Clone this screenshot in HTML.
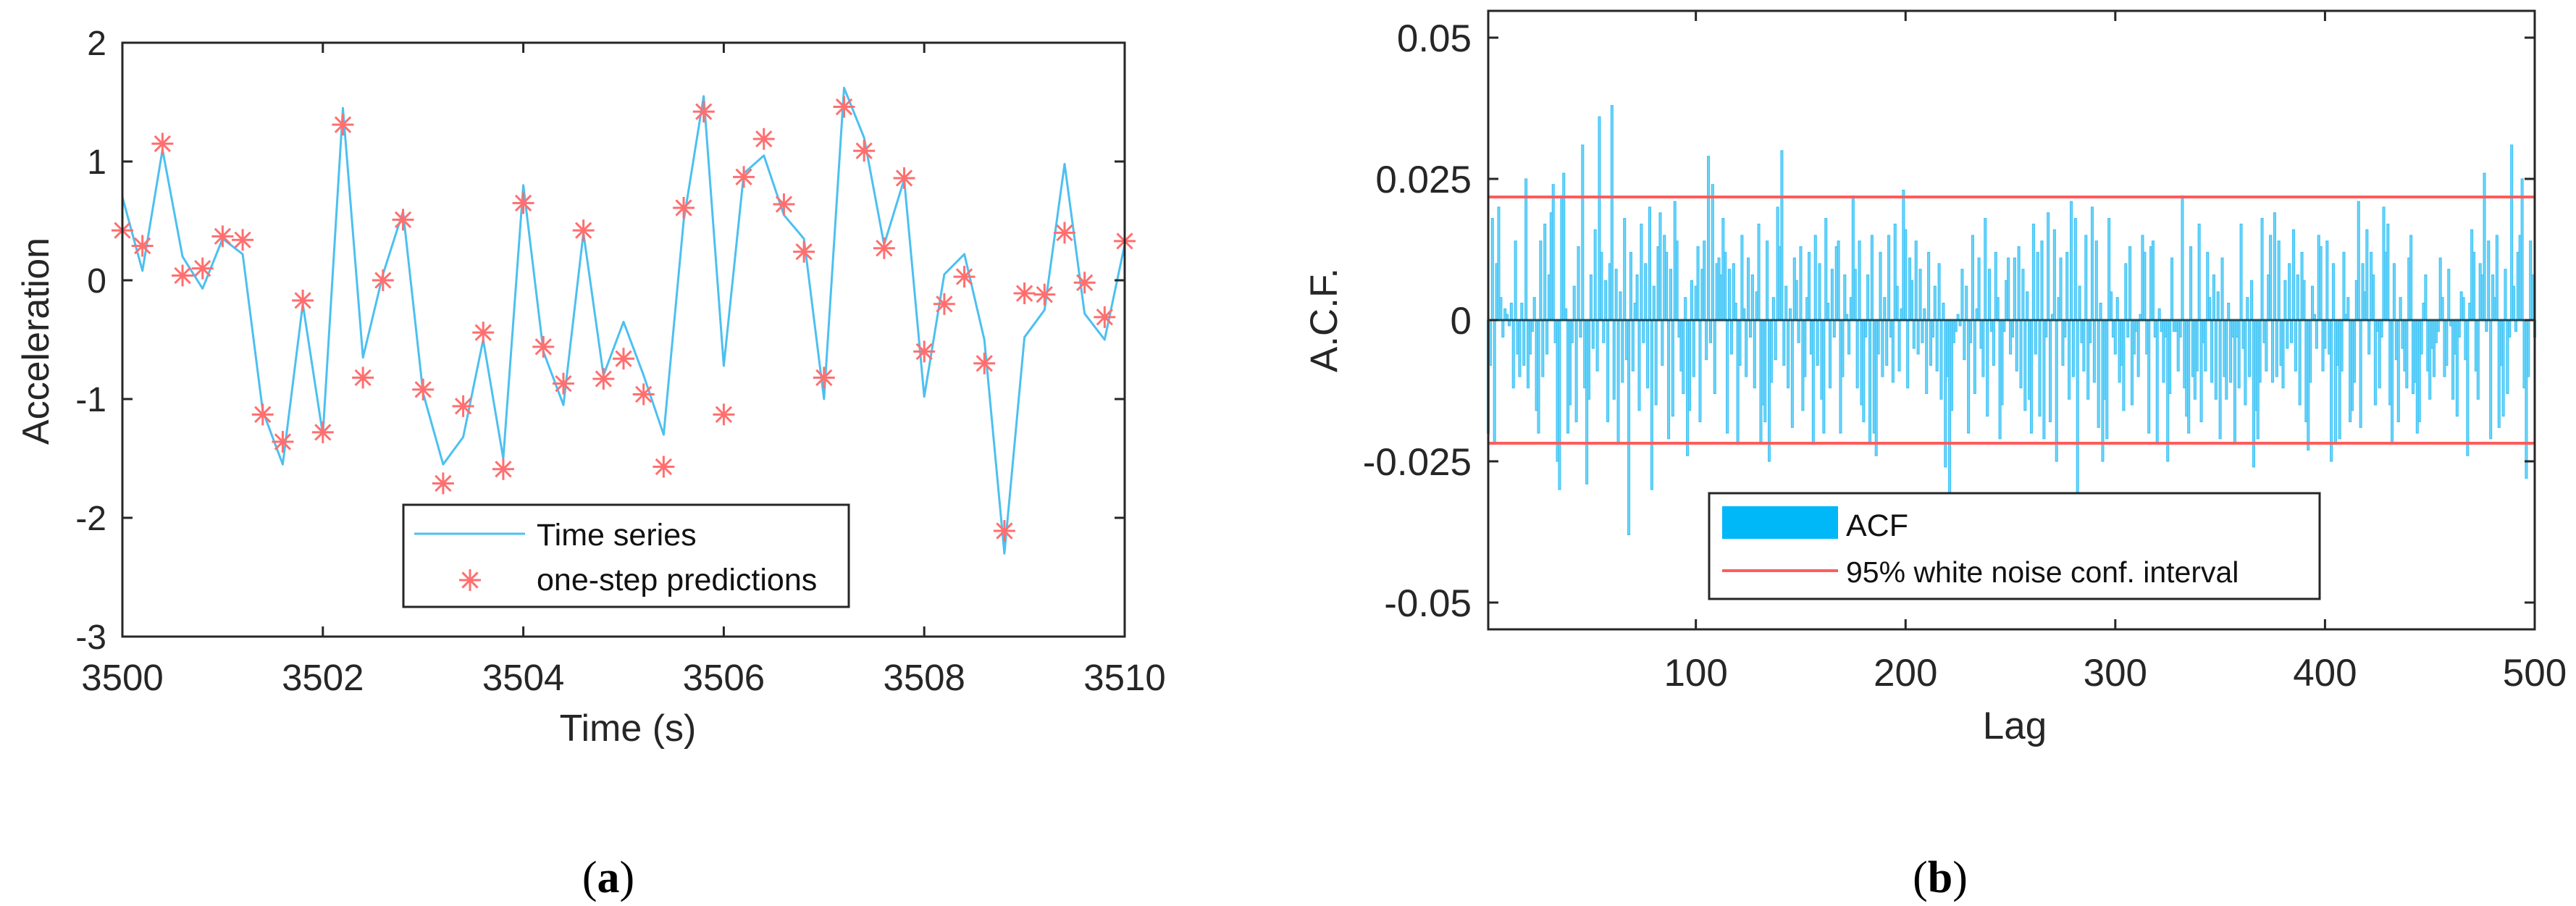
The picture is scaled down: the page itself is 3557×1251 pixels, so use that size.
<!DOCTYPE html>
<html><head><meta charset="utf-8"><style>
html,body{margin:0;padding:0;background:#fff;}
svg{display:block;font-family:"Liberation Sans",sans-serif;}
</style></head><body>
<svg id="fig" width="3557" height="1251" viewBox="0 0 3557 1251">
<g id="ga"></g>
<g id="gb"></g>
</svg>
<script>
// ---------- Panel (a) data ----------
const timeVals = [3500,3500.2,3500.4,3500.6,3500.8,3501,3501.2,3501.4,3501.6,3501.8,3502,3502.2,3502.4,3502.6,3502.8,3503,3503.2,3503.4,3503.6,3503.8,3504,3504.2,3504.4,3504.6,3504.8,3505,3505.2,3505.4,3505.6,3505.8,3506,3506.2,3506.4,3506.6,3506.8,3507,3507.2,3507.4,3507.6,3507.8,3508,3508.2,3508.4,3508.6,3508.8,3509,3509.2,3509.4,3509.6,3509.8,3510];
const seriesVals = [0.7,0.08,1.1,0.2,-0.07,0.35,0.22,-1.1,-1.55,-0.2,-1.3,1.45,-0.65,0.05,0.58,-0.95,-1.55,-1.32,-0.5,-1.5,0.8,-0.6,-1.05,0.4,-0.8,-0.35,-0.8,-1.3,0.5,1.55,-0.72,0.9,1.05,0.55,0.35,-1.0,1.62,1.2,0.3,0.85,-0.98,0.05,0.22,-0.5,-2.3,-0.48,-0.25,0.98,-0.28,-0.5,0.3];
const predVals = [0.42,0.29,1.15,0.04,0.1,0.37,0.34,-1.13,-1.36,-0.17,-1.28,1.31,-0.82,0.0,0.51,-0.92,-1.71,-1.06,-0.44,-1.59,0.65,-0.56,-0.87,0.42,-0.83,-0.66,-0.96,-1.57,0.61,1.42,-1.13,0.87,1.19,0.64,0.24,-0.82,1.46,1.09,0.27,0.86,-0.6,-0.2,0.03,-0.7,-2.11,-0.11,-0.12,0.4,-0.02,-0.31,0.33];
const xTicksA = [3500,3502,3504,3506,3508,3510];
const yTicksA = [-3,-2,-1,0,1,2];

// ---------- Panel (b) data (ACF in thousandths) ----------
const acfMilli = [
-20,-8,18,-22,10,20,4,-3,2,1,-1,3,-12,14,-6,-10,3,-8,25,-12,-6,-2,4,-16,-20,
14,-10,17,-6,8,19,24,-4,-25,-30,22,26,2,-20,-15,-4,6,-18,13,-3,31,-12,-29,-14,8,
-5,16,-9,36,12,-4,7,-18,10,38,-14,9,-22,5,-11,18,-7,-38,12,-9,3,8,-16,17,-4,
10,-12,20,-30,6,-15,13,19,-8,15,12,-21,9,-17,21,14,-3,-9,-13,4,-24,-16,7,-10,6,
13,-18,9,14,-7,29,-4,24,-13,10,11,8,18,12,-20,9,-6,10,3,-22,-8,15,2,-10,11,
-3,8,-12,5,17,-22,-15,-18,14,-25,-11,4,-7,20,13,30,-8,6,-12,2,-19,11,7,-4,13,
-16,-10,4,12,-6,-22,15,-8,10,-14,-20,18,3,-12,9,-3,13,14,-20,-10,8,1,-6,4,22,
9,-12,14,-15,-18,-3,8,-22,15,-20,-24,-6,12,-10,4,-8,15,-3,-11,17,6,-9,2,23,16,
-12,11,7,-5,14,-6,9,-4,2,-13,12,-8,-3,6,-9,10,-14,3,-26,-10,-31,-16,-4,-2,1,
-1,9,-7,6,-20,-4,15,-13,2,11,-5,-10,18,-17,9,-2,-8,12,4,-21,-15,-2,7,11,-6,
-3,11,-9,13,-12,9,-16,5,-14,-20,17,-6,12,-17,14,-21,-3,19,-18,1,16,-25,4,11,-8,
-3,12,-14,21,-10,18,-31,6,-4,-9,15,-14,-4,20,-11,14,-19,3,-25,-14,-21,18,5,-3,-6,
4,-11,-8,-16,10,-3,13,-15,-6,-2,-10,1,15,12,-6,-20,13,14,-3,-22,2,-2,-11,-3,-25,
-13,11,-2,-2,-9,-3,22,-12,-17,-20,13,-10,-14,-9,17,-18,-4,-9,12,4,-11,8,-14,5,-21,
11,-10,-14,3,-11,-3,-22,-3,-12,17,-5,-15,4,-10,7,-26,-16,-21,-11,18,-4,-9,8,15,-11,
19,-10,14,-8,-12,7,-5,10,-4,16,-9,8,-15,12,7,-18,-23,-11,6,1,-5,15,13,-9,-5,
14,-6,-25,10,-22,-8,-21,-9,12,1,4,-18,-16,-11,7,21,-19,10,5,16,-6,12,8,-15,-2,
-12,-3,20,12,17,-15,-22,10,-7,-18,4,-5,-9,-12,11,15,-13,-11,-20,-18,-6,3,8,-9,-14,
-5,-10,-4,-2,11,4,-10,-8,9,-1,-14,-6,-17,-3,5,4,-7,-24,3,16,12,-9,-14,10,8,
26,-2,14,-21,8,4,15,-19,-8,-17,9,-13,-3,31,6,-2,12,15,25,-12,-28,-10,14,8,-3];
const confBound = [0.0218];
const xTicksB = [100,200,300,400,500];
const yTicksB = [-0.05,-0.025,0,0.025,0.05];
const yTickLabelsB = ["-0.05","-0.025","0","0.025","0.05"];

const NS="http://www.w3.org/2000/svg";
function mk(parent, tag, attrs, text){
  const e=document.createElementNS(NS,tag);
  for(const k in attrs) e.setAttribute(k,attrs[k]);
  if(text!==undefined) e.textContent=text;
  parent.appendChild(e); return e;
}
const AX="#262626";

// ================= Panel A =================
const ga=document.getElementById('ga');
const A={x0:169,x1:1553,y0:59,y1:879,xmin:3500,xmax:3510,ymin:-3,ymax:2};
const xa=v=>A.x0+(v-A.xmin)/(A.xmax-A.xmin)*(A.x1-A.x0);
const ya=v=>A.y1-(v-A.ymin)/(A.ymax-A.ymin)*(A.y1-A.y0);

let pts=timeVals.map((t,i)=>xa(t).toFixed(1)+","+ya(seriesVals[i]).toFixed(1)).join(" ");
let pl=mk(ga,'polyline',{points:pts,fill:'none',stroke:'#4cc0f0','stroke-width':3,'stroke-linejoin':'round'});



function star(parent,cx,cy,r){
  const g=mk(parent,'g',{stroke:'#ff6f6f','stroke-width':3,'stroke-linecap':'butt'});
  const d=r*0.7071;
  mk(g,'line',{x1:cx-r,y1:cy,x2:cx+r,y2:cy});
  mk(g,'line',{x1:cx,y1:cy-r,x2:cx,y2:cy+r});
  mk(g,'line',{x1:cx-d,y1:cy-d,x2:cx+d,y2:cy+d});
  mk(g,'line',{x1:cx-d,y1:cy+d,x2:cx+d,y2:cy-d});
  return g;
}
timeVals.forEach((t,i)=>{
  const s=star(ga,xa(t),ya(predVals[i]),15);
  
  
});

// axes box
let bx=mk(ga,'rect',{x:A.x0,y:A.y0,width:A.x1-A.x0,height:A.y1-A.y0,fill:'none',stroke:AX,'stroke-width':3});


xTicksA.forEach(v=>{
  const x=xa(v);
  mk(ga,'line',{x1:x,y1:A.y1,x2:x,y2:A.y1-14,stroke:AX,'stroke-width':3});
  mk(ga,'line',{x1:x,y1:A.y0,x2:x,y2:A.y0+14,stroke:AX,'stroke-width':3});
  const t=mk(ga,'text',{x:x,y:953,'font-size':51,'text-anchor':'middle',fill:'#262626'},String(v));
  
  
});
yTicksA.forEach(v=>{
  const y=ya(v);
  mk(ga,'line',{x1:A.x0,y1:y,x2:A.x0+14,y2:y,stroke:AX,'stroke-width':3});
  mk(ga,'line',{x1:A.x1,y1:y,x2:A.x1-14,y2:y,stroke:AX,'stroke-width':3});
  const t=mk(ga,'text',{x:147,y:y+17,'font-size':48,'text-anchor':'end',fill:'#262626'},String(v));
  
  
});
let t1=mk(ga,'text',{x:867,y:1023,'font-size':52,'text-anchor':'middle',fill:'#262626'},'Time (s)');


let t2=mk(ga,'text',{x:0,y:0,'font-size':52,'text-anchor':'middle',fill:'#262626',transform:'translate(67,471) rotate(-90)'},'Acceleration');


// legend
let lg=mk(ga,'g',{});


mk(lg,'rect',{x:557,y:697,width:615,height:141,fill:'#fff',stroke:AX,'stroke-width':3});
mk(lg,'line',{x1:572,y1:737,x2:725,y2:737,stroke:'#4cc0f0','stroke-width':3});
let le1=mk(lg,'text',{x:741,y:753,'font-size':43,fill:'#111'},'Time series');


star(lg,649,801,15);
let le2=mk(lg,'text',{x:741,y:815,'font-size':43,fill:'#111'},'one-step predictions');


let ca=mk(ga,'text',{x:840,y:1232,'font-size':62,'text-anchor':'middle',fill:'#000','font-family':'Liberation Serif, serif'},'');


ca.innerHTML='(<tspan font-weight="bold">a</tspan>)';

// ================= Panel B =================
const gb=document.getElementById('gb');
const B={x0:2055,x1:3500,y0:15,y1:869,xmin:1,xmax:500};
const yb=v=>442-v/0.025*195;
const xb=v=>B.x0+(v-B.xmin)/(B.xmax-B.xmin)*(B.x1-B.x0);
const bw=(B.x1-B.x0)/(B.xmax-B.xmin);
acfMilli.forEach((m,i)=>{
  const v=m/1000, lag=i+1;
  const y=yb(v), y0=yb(0);
  const r=mk(gb,'rect',{x:(xb(lag)-bw/2).toFixed(2),y:Math.min(y,y0).toFixed(1),width:bw.toFixed(2),height:Math.abs(y-y0).toFixed(1),fill:'#00b4f5','fill-opacity':0.55,stroke:'#40c4f5','stroke-width':1.2});
  
  
});
mk(gb,'line',{x1:B.x0,y1:yb(0),x2:B.x1,y2:yb(0),stroke:'#1a4a5a','stroke-width':3});
[confBound[0],-confBound[0]].forEach(v=>{
  const l=mk(gb,'line',{x1:B.x0,y1:yb(v),x2:B.x1,y2:yb(v),stroke:'#ff5c5c','stroke-width':4});
  
  
});
let bxb=mk(gb,'rect',{x:B.x0,y:B.y0,width:B.x1-B.x0,height:B.y1-B.y0,fill:'none',stroke:AX,'stroke-width':3});


xTicksB.forEach(v=>{
  const x=xb(v);
  mk(gb,'line',{x1:x,y1:B.y1,x2:x,y2:B.y1-14,stroke:AX,'stroke-width':3});
  mk(gb,'line',{x1:x,y1:B.y0,x2:x,y2:B.y0+14,stroke:AX,'stroke-width':3});
  const t=mk(gb,'text',{x:x,y:947,'font-size':53,'text-anchor':'middle',fill:'#262626'},String(v));
  
  
});
yTicksB.forEach((v,i)=>{
  const y=yb(v);
  mk(gb,'line',{x1:B.x0,y1:y,x2:B.x0+14,y2:y,stroke:AX,'stroke-width':3});
  mk(gb,'line',{x1:B.x1,y1:y,x2:B.x1-14,y2:y,stroke:AX,'stroke-width':3});
  const t=mk(gb,'text',{x:2032,y:y+19,'font-size':53,'text-anchor':'end',fill:'#262626'},yTickLabelsB[i]);
  
  
});
let t3=mk(gb,'text',{x:2782,y:1020,'font-size':53,'text-anchor':'middle',fill:'#262626'},'Lag');


let t4=mk(gb,'text',{x:0,y:0,'font-size':53,'text-anchor':'middle',fill:'#262626',transform:'translate(1846,442) rotate(-90)'},'A.C.F.');


let lgb=mk(gb,'g',{});


mk(lgb,'rect',{x:2360,y:681,width:843,height:146,fill:'#fff',stroke:AX,'stroke-width':3});
mk(lgb,'rect',{x:2378,y:699,width:160,height:45,fill:'#00b8f8'});
let le3=mk(lgb,'text',{x:2549,y:740,'font-size':43,fill:'#111'},'ACF');


mk(lgb,'line',{x1:2378,y1:788,x2:2538,y2:788,stroke:'#ff5c5c','stroke-width':4});
let le4=mk(lgb,'text',{x:2549,y:804,'font-size':41,fill:'#111'},'95% white noise conf. interval');


let cb=mk(gb,'text',{x:2679,y:1232,'font-size':62,'text-anchor':'middle',fill:'#000','font-family':'Liberation Serif, serif'},'');


cb.innerHTML='(<tspan font-weight="bold">b</tspan>)';
</script>
</body></html>
